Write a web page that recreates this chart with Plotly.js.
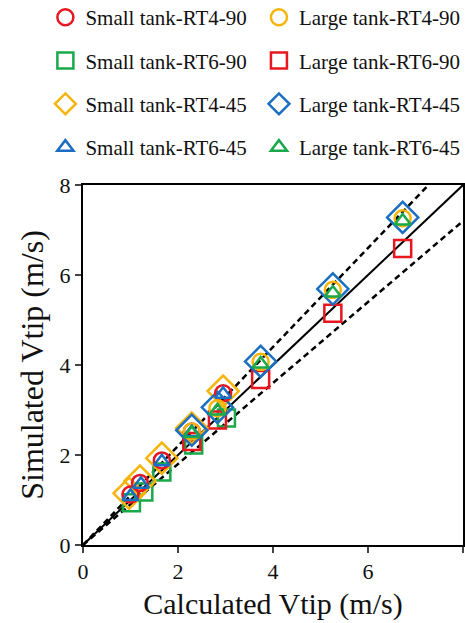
<!DOCTYPE html>
<html><head><meta charset="utf-8">
<script src="https://cdn.plot.ly/plotly-3.0.1.min.js"></script>
<style>html,body{margin:0;padding:0;background:#fff}</style>
</head><body>
<div id="chart" style="width:465px;height:623px"></div>
<script>
// Series names
const names = ["Small tank-RT4-90","Small tank-RT6-90","Small tank-RT4-45","Small tank-RT6-45",
               "Large tank-RT4-90","Large tank-RT6-90","Large tank-RT4-45","Large tank-RT6-45"];
// Data
const sRT4_90_x = [1.00, 1.20, 1.66, 2.29, 2.95];
const sRT4_90_y = [1.12, 1.38, 1.88, 2.52, 3.37];
const sRT6_90_x = [1.02, 1.28, 1.66, 2.33, 3.02];
const sRT6_90_y = [0.94, 1.18, 1.62, 2.22, 2.82];
const sRT4_45_x = [0.97, 1.20, 1.66, 2.29, 2.95];
const sRT4_45_y = [1.15, 1.42, 1.93, 2.60, 3.42];
const sRT6_45_x = [1.00, 1.22, 1.66, 2.29, 2.95];
const sRT6_45_y = [1.08, 1.35, 1.85, 2.50, 3.35];
const lRT4_90_x = [2.29, 2.83, 3.74, 5.26, 6.73];
const lRT4_90_y = [2.52, 3.04, 4.07, 5.67, 7.26];
const lRT6_90_x = [2.29, 2.83, 3.74, 5.26, 6.73];
const lRT6_90_y = [2.30, 2.78, 3.68, 5.15, 6.59];
const lRT4_45_x = [2.29, 2.83, 3.74, 5.26, 6.73];
const lRT4_45_y = [2.55, 3.06, 4.08, 5.69, 7.28];
const lRT6_45_x = [2.29, 2.83, 3.74, 5.26, 6.73];
const lRT6_45_y = [2.48, 2.98, 4.02, 5.60, 7.20];
// Reference lines: 1:1 and +/-10%
const refX = [0, 8];
const refY = [0, 8];
const upX = [0, 7.273];
const upY = [0, 8];
const loX = [0, 8];
const loY = [0, 7.2];

const RED="#e8161e", GREEN="#19a94a", YEL="#f5b50a", BLUE="#1a6fc2";
function mk(x,y,name,sym,col,size,leg,rank){
  return {x:x,y:y,name:name,type:"scatter",mode:"markers",legend:leg,legendgroup:name,legendrank:rank,
    marker:{symbol:sym,size:size,color:col,line:{color:col,width:2.5}}};
}
const traces = [
  {x:refX,y:refY,type:"scatter",mode:"lines",line:{color:"#000",width:2},showlegend:false,hoverinfo:"skip"},
  {x:upX,y:upY,type:"scatter",mode:"lines",line:{color:"#000",width:2.5,dash:"6px,4px"},showlegend:false,hoverinfo:"skip"},
  {x:loX,y:loY,type:"scatter",mode:"lines",line:{color:"#000",width:2.5,dash:"6px,4px"},showlegend:false,hoverinfo:"skip"},
  mk(sRT6_90_x,sRT6_90_y,names[1],"square-open",GREEN,17,"legend",2),
  mk(lRT6_90_x,lRT6_90_y,names[5],"square-open",RED,17,"legend2",2),
  mk(sRT4_45_x,sRT4_45_y,names[2],"diamond-open",YEL,24,"legend",3),
  mk(lRT4_45_x,lRT4_45_y,names[6],"diamond-open",BLUE,24,"legend2",3),
  mk(sRT4_90_x,sRT4_90_y,names[0],"circle-open",RED,16,"legend",1),
  mk(lRT4_90_x,lRT4_90_y,names[4],"circle-open",YEL,16,"legend2",1),
  mk(sRT6_45_x,sRT6_45_y,names[3],"triangle-up-open",BLUE,14,"legend",4),
  mk(lRT6_45_x,lRT6_45_y,names[7],"triangle-up-open",GREEN,14,"legend2",4)
];
const serif = "Liberation Serif";
const legCommon = {font:{family:serif,size:21,color:"#111"},bgcolor:"rgba(0,0,0,0)",
  borderwidth:0,yanchor:"top",xanchor:"left",tracegroupgap:13,traceorder:"grouped",itemwidth:30};
const layout = {
  width:465,height:623,
  margin:{l:83,r:2,t:185,b:78,autoexpand:false},
  paper_bgcolor:"#fff",plot_bgcolor:"#fff",
  font:{family:serif,color:"#111"},
  xaxis:{range:[0,8],tickvals:[0,2,4,6,8],ticks:"outside",ticklen:6,tickwidth:2,
    showline:true,mirror:true,linecolor:"#000",linewidth:2,showgrid:false,zeroline:false,automargin:false,
    tickfont:{family:serif,size:22},title:{text:"Calculated Vtip (m/s)",font:{family:serif,size:30},standoff:10}},
  yaxis:{range:[0,8],tickvals:[0,2,4,6,8],ticks:"outside",ticklen:6,tickwidth:2,
    showline:true,mirror:true,linecolor:"#000",linewidth:2,showgrid:false,zeroline:false,automargin:false,
    tickfont:{family:serif,size:22},title:{text:"Simulated Vtip (m/s)",font:{family:serif,size:32},standoff:6}},
  legend:Object.assign({x:-0.099,y:1.522},legCommon),
  legend2:Object.assign({x:0.463,y:1.522},legCommon),
  showlegend:true
};
Plotly.newPlot("chart",traces,layout,{displayModeBar:false,staticPlot:true});
</script>
</body></html>
